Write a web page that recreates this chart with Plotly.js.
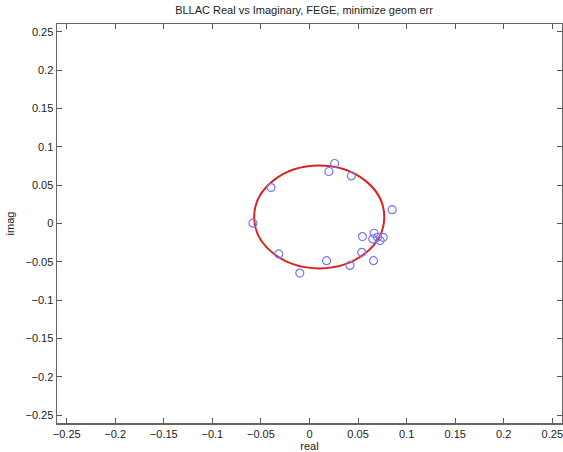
<!DOCTYPE html>
<html>
<head>
<meta charset="utf-8">
<script src="https://cdn.plot.ly/plotly-3.0.1.min.js"></script>
<style>html,body{margin:0;padding:0;background:#fff;}#chart{width:563px;height:452px;}</style>
</head>
<body>
<div id="chart"></div>
<script>
// Observed points (real, imag)
var realVals = [-0.0582, -0.0397, -0.0317, -0.0100, 0.0176, 0.0200, 0.0259, 0.0431, 0.0417,
                0.0545, 0.0665, 0.0651, 0.0700, 0.0758, 0.0727, 0.0538, 0.0659, 0.0851];
var imagVals = [0.0004, 0.0468, -0.0397, -0.0646, -0.0485, 0.0678, 0.0782, 0.0620, -0.0547,
                -0.0170, -0.0127, -0.0201, -0.0180, -0.0180, -0.0223, -0.0376, -0.0485, 0.0180];
// Fitted circle (center and radii in data units)
var circleCenter = [0.010, 0.0085];
var circleRadius = [0.067, 0.067];
var tickVals = [-0.25, -0.2, -0.15, -0.1, -0.05, 0, 0.05, 0.1, 0.15, 0.2, 0.25];
var tickText = ['\u22120.25', '\u22120.2', '\u22120.15', '\u22120.1', '\u22120.05', '0', '0.05', '0.1', '0.15', '0.2', '0.25'];

var trace = {
  x: realVals, y: imagVals, type: 'scatter', mode: 'markers',
  marker: {symbol: 'circle-open', size: 8, color: '#7878f0', line: {width: 1.2, color: '#7878f0'}},
  hoverinfo: 'x+y', cliponaxis: false
};

var axisCommon = {
  range: [-0.26, 0.26], tickvals: tickVals, ticktext: tickText,
  ticks: 'inside', ticklen: 5, tickwidth: 1, tickcolor: '#555',
  showline: true, linecolor: '#666', linewidth: 1.5, mirror: 'ticks',
  showgrid: false, zeroline: false, ticklabeloverflow: 'allow',
  tickfont: {family: 'Liberation Sans, Arial, sans-serif', size: 11, color: '#222'}
};

var layout = {
  width: 563, height: 452,
  margin: {l: 57, r: 1, t: 24, b: 29},
  paper_bgcolor: '#fff', plot_bgcolor: '#fff',
  showlegend: false,
  title: {text: 'BLLAC Real vs Imaginary, FEGE, minimize geom err',
          font: {family: 'Liberation Sans, Arial, sans-serif', size: 11, color: '#222'},
          x: 0.54, xanchor: 'center', y: 0.977, yanchor: 'middle'},
  xaxis: Object.assign({}, axisCommon, {
    title: {text: 'real', standoff: 0, font: {family: 'Liberation Sans, Arial, sans-serif', size: 11, color: '#222'}}
  }),
  yaxis: Object.assign({}, axisCommon, {
    title: {text: 'imag', standoff: 8, font: {family: 'Liberation Sans, Arial, sans-serif', size: 11, color: '#222'}}
  }),
  shapes: [{
    type: 'circle', xref: 'x', yref: 'y',
    x0: circleCenter[0] - circleRadius[0], x1: circleCenter[0] + circleRadius[0],
    y0: circleCenter[1] - circleRadius[1], y1: circleCenter[1] + circleRadius[1],
    line: {color: '#e02020', width: 2}, layer: 'below'
  }]
};

Plotly.newPlot('chart', [trace], layout, {displayModeBar: false, staticPlot: true});
</script>
</body>
</html>
